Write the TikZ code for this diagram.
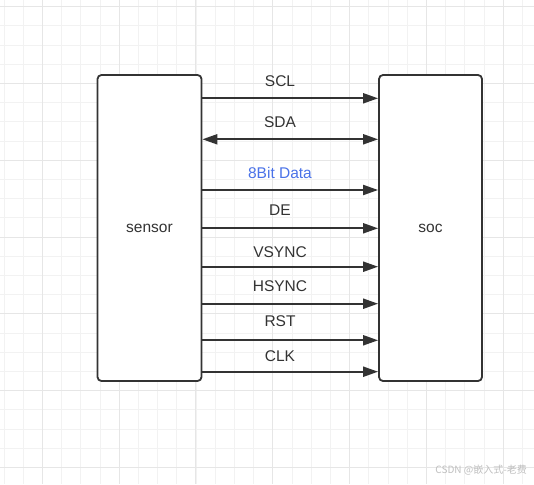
\documentclass[tikz,border=0pt]{standalone}
\usepackage{fontspec}
\setmainfont{Liberation Sans}
\newfontfamily\cjkfont{Noto Sans CJK SC}
\usetikzlibrary{arrows.meta}
\definecolor{ink}{HTML}{333333}
\definecolor{gridminor}{HTML}{F2F2F2}
\definecolor{gridmajor}{HTML}{E6E6E6}
\definecolor{bluetext}{HTML}{4A72E8}
\tikzset{
  box/.style={draw=ink, line width=1.8pt, rounded corners=4pt, fill=white, inner sep=0pt},
  sig/.style={draw=ink, line width=2pt, -{Triangle[length=15pt,width=10pt]}},
  bisig/.style={draw=ink, line width=2pt, {Triangle[length=15pt,width=10pt]}-{Triangle[length=15pt,width=10pt]}},
  lbl/.style={text=ink, font=\fontsize{15.5}{18}\selectfont, inner sep=0pt, anchor=center},
}
\begin{document}
\begin{tikzpicture}[x=1pt,y=-1pt]
\useasboundingbox (0,0) rectangle (534,484);
\fill[white] (0,0) rectangle (534,484);
% grid
\foreach \i in {0,...,27} {
  \pgfmathsetmacro{\xx}{4+19.2*\i}
  \draw[gridminor, line width=1pt] (\xx,0) -- (\xx,484);
}
\foreach \i in {0,...,25} {
  \pgfmathsetmacro{\yy}{6.7+19.2*\i}
  \draw[gridminor, line width=1pt] (0,\yy) -- (534,\yy);
}
\foreach \i in {0,...,6} {
  \pgfmathsetmacro{\xx}{42.3+76.8*\i}
  \draw[gridmajor, line width=1pt] (\xx,0) -- (\xx,484);
}
\foreach \i in {0,...,6} {
  \pgfmathsetmacro{\yy}{6.7+76.8*\i}
  \draw[gridmajor, line width=1pt] (0,\yy) -- (534,\yy);
}
% boxes
\node[box, minimum width=104pt, minimum height=306pt] (sensor) at (149.5,228) {};
\node[box, minimum width=103pt, minimum height=306pt] (soc) at (430.5,228) {};
\node[lbl] (sensorlbl) at (sensor.center) {sensor};
\node[lbl] (soclbl) at (soc.center) {soc};
% signals
\draw[sig] (sensor.east |- 0,98.3) -- (soc.west |- 0,98.3);
\draw[bisig] (sensor.east |- 0,139.3) -- (soc.west |- 0,139.3);
\draw[sig] (sensor.east |- 0,190) -- (soc.west |- 0,190);
\draw[sig] (sensor.east |- 0,228.3) -- (soc.west |- 0,228.3);
\draw[sig] (sensor.east |- 0,266.7) -- (soc.west |- 0,266.7);
\draw[sig] (sensor.east |- 0,303.7) -- (soc.west |- 0,303.7);
\draw[sig] (sensor.east |- 0,340.3) -- (soc.west |- 0,340.3);
\draw[sig] (sensor.east |- 0,371.7) -- (soc.west |- 0,371.7);
% labels
\node[lbl] (scl) at (280,81) {SCL};
\node[lbl] (sda) at (280,122) {SDA};
\node[lbl, text=bluetext] (data) at (280,173) {8Bit Data};
\node[lbl] (de) at (280,210) {DE};
\node[lbl] (vsync) at (280,252.5) {VSYNC};
\node[lbl] (hsync) at (280,286) {HSYNC};
\node[lbl] (rst) at (280,321) {RST};
\node[lbl] (clk) at (280,356) {CLK};
% watermark
\node[text=black!25, font=\cjkfont\fontsize{10}{12}\selectfont, inner sep=0pt, anchor=east] (wm) at (527,470) {CSDN @嵌入式-老费};
\end{tikzpicture}
\end{document}
